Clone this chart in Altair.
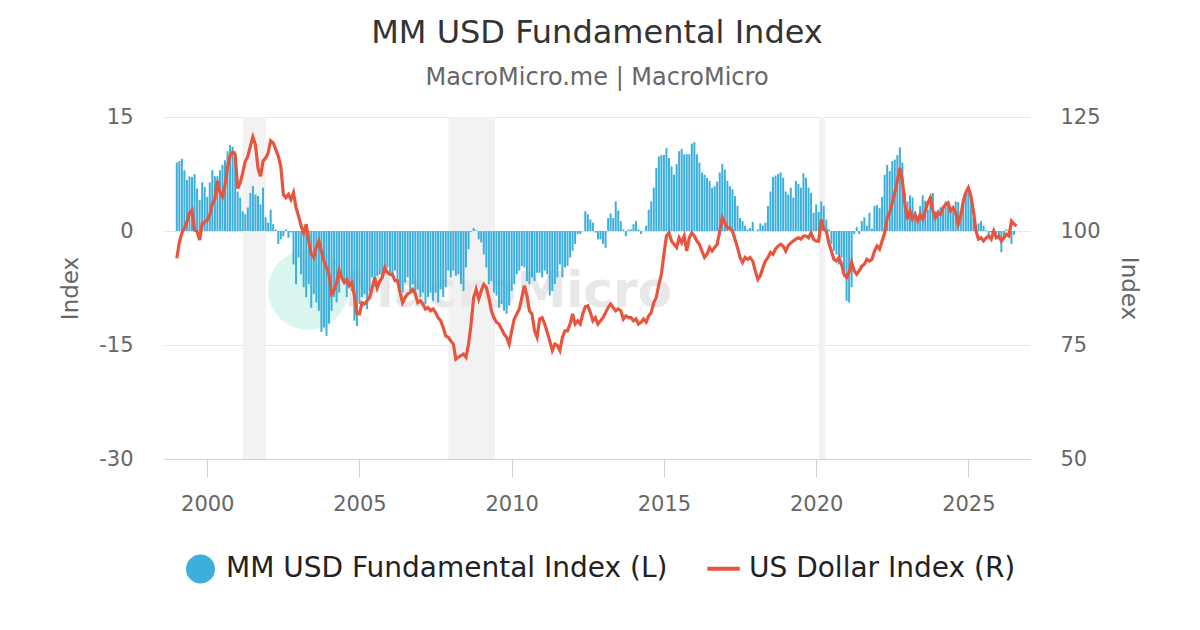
import altair as alt
import pandas as pd

# ---- data (monthly, starting Jan 1999) ----
fi_values = [
    # 1999
    9.0, 9.2, 9.5, 8.0, 6.7, 7.2, 7.1, 7.5, 5.6, 4.1, 6.4, 5.8,
    # 2000
    4.5, 6.4, 8.0, 7.2, 7.2, 8.0, 8.7, 9.3, 10.5, 11.3, 11.1, 10.5,
    # 2001
    5.2, 4.4, 2.6, 2.2, 3.1, 5.0, 5.9, 4.8, 4.6, 3.5, 5.7, 1.8,
    # 2002
    1.1, 2.8, 0.9, 0.2, -1.7, -1.1, -0.7, 0.2, -0.9, -0.2, -4.4, -7.0,
    # 2003
    -3.5, -5.7, -7.4, -8.7, -7.0, -10.1, -8.3, -9.4, -10.5, -13.3, -12.7, -13.8,
    # 2004
    -12.2, -10.5, -8.7, -9.4, -8.1, -6.1, -6.3, -8.7, -7.0, -7.9, -11.8, -12.5,
    # 2005
    -9.6, -8.7, -8.3, -10.3, -7.9, -6.1, -7.3, -5.9, -5.7, -5.9, -4.8, -4.8,
    # 2006
    -5.7, -6.1, -5.2, -6.3, -7.9, -8.1, -6.8, -6.1, -7.9, -7.0, -8.5, -7.7,
    # 2007
    -8.7, -8.1, -9.6, -8.7, -8.1, -9.2, -8.1, -9.4, -7.7, -8.7, -7.4, -5.2,
    # 2008
    -6.1, -5.2, -5.9, -5.7, -7.0, -7.9, -4.8, -2.4, -0.1, 0.4, 0.1, -1.1,
    # 2009
    -1.5, -3.1, -4.8, -7.0, -6.6, -8.1, -8.5, -10.1, -9.6, -10.5, -10.9, -9.8,
    # 2010
    -7.9, -7.0, -5.7, -5.2, -4.6, -4.8, -6.6, -7.0, -6.1, -6.6, -5.5, -5.5,
    # 2011
    -6.1, -5.2, -5.7, -8.5, -7.9, -7.0, -6.1, -4.4, -6.1, -4.8, -4.6, -3.5,
    # 2012
    -2.6, -1.7, -0.4, -0.4, 0.0, 2.6, 2.2, 1.5, 1.1, -0.2, -1.1, -1.1,
    # 2013
    -1.7, -2.2, 1.7, 2.3, 1.7, 3.9, 2.7, 1.3, 0.2, -0.7, 0.2, 0.2,
    # 2014
    0.9, 1.3, 0.2, -0.4, 0.0, 0.7, 2.8, 3.9, 5.7, 8.3, 9.8, 10.0,
    # 2015
    10.0, 10.9, 9.6, 8.5, 7.4, 8.8, 10.5, 10.8, 10.1, 10.1, 10.1, 11.5,
    # 2016
    11.7, 10.1, 9.0, 7.7, 7.4, 7.0, 6.6, 5.7, 5.9, 6.5, 7.7, 8.8,
    # 2017
    8.1, 6.6, 5.9, 5.5, 4.6, 3.3, 1.7, 1.3, 0.7, 0.2, 0.4, 1.2,
    # 2018
    0.0, 0.2, 1.0, 0.7, 1.1, 3.3, 5.2, 7.1, 7.3, 7.5, 7.7, 7.0,
    # 2019
    5.2, 4.8, 5.7, 4.4, 6.6, 6.2, 5.7, 7.6, 7.0, 5.7, 5.0, 2.4,
    # 2020
    3.5, 2.5, 3.9, 3.3, 1.5, 0.2, -1.7, -2.6, -3.1, -4.4, -3.5, -6.0,
    # 2021
    -9.2, -9.4, -7.4, -0.4, 0.5, -0.4, 1.3, 1.8, 0.7, 2.4, 0.3, 3.3,
    # 2022
    3.4, 3.0, 4.5, 7.4, 8.7, 7.9, 9.2, 9.4, 10.0, 11.0, 9.0, 5.0,
    # 2023
    3.9, 4.7, 4.4, 2.6, 1.3, 3.3, 4.7, 4.0, 2.8, 4.6, 5.0, 2.6,
    # 2024
    2.8, 3.1, 3.1, 3.9, 3.7, 2.6, 2.6, 3.9, 3.8, 2.6, 4.2, 4.8,
    # 2025
    5.0, 4.4, 1.7, 0.4, 1.0, 1.3, 0.7, 0.1, -0.7, -0.2, 0.1, -0.4,
    # 2026
    -1.1, -2.8, -0.8, 0.2, -0.4, -1.7, -0.5,
]

dxy_values = [
    # 1999
    94.0, 97.5, 99.6, 100.6, 102.0, 103.9, 104.6, 100.2, 99.9, 98.0, 101.5, 102.0,
    # 2000
    102.4, 103.5, 106.0, 107.0, 111.0, 108.5, 107.5, 110.0, 114.0, 116.5, 117.3, 116.8,
    # 2001
    109.3, 110.6, 112.8, 115.3, 116.4, 118.6, 120.6, 118.9, 113.8, 112.0, 115.3, 116.0,
    # 2002
    117.1, 119.8, 119.3, 117.9, 116.4, 114.2, 108.0, 107.3, 108.0, 106.9, 108.4, 105.1,
    # 2003
    103.3, 101.1, 99.6, 101.5, 97.8, 94.9, 94.2, 96.4, 97.8, 95.6, 93.4, 92.0,
    # 2004
    90.5, 86.2, 86.9, 88.7, 91.3, 89.8, 88.7, 89.4, 88.0, 88.7, 85.8, 81.8,
    # 2005
    81.8, 84.3, 84.0, 84.7, 85.4, 87.5, 89.8, 87.5, 89.0, 89.8, 92.0, 90.9,
    # 2006
    90.5, 90.5, 89.1, 89.1, 86.5, 84.3, 85.4, 86.2, 86.5, 87.2, 86.2, 84.3,
    # 2007
    84.7, 84.0, 82.9, 83.2, 82.5, 82.9, 82.1, 81.0, 80.3, 78.9, 77.0, 76.7,
    # 2008
    75.9, 75.2, 71.9, 72.3, 72.7, 73.0, 72.3, 75.2, 79.6, 85.4, 87.2, 85.1,
    # 2009
    86.9, 88.3, 87.6, 85.4, 82.5, 81.0, 80.0, 79.6, 78.5, 77.4, 76.7, 75.2,
    # 2010
    78.1, 80.7, 81.8, 82.9, 85.4, 88.0, 85.8, 82.5, 81.8, 78.1, 76.7, 80.7,
    # 2011
    81.0, 79.6, 77.8, 75.9, 73.8, 75.2, 74.9, 73.8, 76.7, 78.1, 78.1, 79.6,
    # 2012
    81.8, 79.6, 80.3, 79.6, 81.8, 83.4, 83.6, 82.1, 80.3, 81.0, 79.6, 80.3,
    # 2013
    81.0, 82.1, 83.2, 84.0, 83.2, 82.5, 82.9, 82.5, 80.7, 81.4, 81.0, 81.0,
    # 2014
    80.3, 80.7, 79.6, 80.0, 80.7, 80.0, 81.4, 82.1, 84.3, 85.4, 88.3, 90.5,
    # 2015
    94.9, 98.9, 99.6, 97.8, 97.1, 96.4, 98.5, 97.4, 98.9, 95.6, 98.5, 99.6,
    # 2016
    98.9, 97.8, 97.1, 95.6, 94.2, 94.9, 96.4, 95.6, 96.4, 97.1, 100.0, 102.9,
    # 2017
    101.8, 100.7, 100.7, 100.0, 98.2, 96.4, 94.2, 93.1, 94.2, 93.8, 94.2, 93.4,
    # 2018
    91.3, 89.4, 90.2, 92.0, 93.4, 94.2, 95.3, 94.9, 96.0, 96.7, 97.1, 96.7,
    # 2019
    95.6, 96.8, 97.4, 97.8, 98.2, 98.5, 98.2, 98.9, 98.9, 98.5, 99.6, 98.2,
    # 2020
    97.8, 97.8, 102.5, 100.4, 100.0, 97.4, 95.6, 93.8, 93.4, 94.2, 92.7, 90.5,
    # 2021
    89.8, 90.9, 93.1, 91.3, 90.5, 91.3, 92.3, 92.7, 93.8, 93.4, 93.8, 95.6,
    # 2022
    96.7, 96.0, 97.8, 99.6, 102.9, 104.0, 106.2, 108.4, 111.0, 113.8, 111.0, 105.8,
    # 2023
    102.6, 104.4, 102.6, 103.6, 102.2, 103.6, 102.6, 104.4, 106.2, 107.3, 104.4, 102.9,
    # 2024
    104.0, 103.6, 105.1, 105.8, 106.2, 104.4, 105.1, 104.0, 101.5, 103.3, 106.6, 108.4,
    # 2025
    109.5, 107.7, 104.4, 100.0, 98.2, 98.5, 97.8, 98.5, 98.9, 98.2, 100.0, 98.5,
    # 2026
    98.9, 97.8, 98.5, 99.3, 98.9, 102.2, 101.5, 101.1,
]

recession_start = [2001.17, 2007.92, 2020.08]
recession_end = [2001.92, 2009.45, 2020.30]

x_ticks = [2000, 2005, 2010, 2015, 2020, 2025]
left_ticks = [-30, -15, 0, 15]
right_ticks = [50, 75, 100, 125]

series_names = ["MM USD Fundamental Index (L)", "US Dollar Index (R)"]

# ---- styles ----
BLUE = "#3cafda"
RED = "#e8553e"
FONT = "DejaVu Sans"
W, H = 866, 342

fi_df = pd.DataFrame({"t": [1999 + i / 12 for i in range(len(fi_values))], "fi": fi_values})
dxy_df = pd.DataFrame({"t": [1999 + i / 12 for i in range(len(dxy_values))], "dxy": dxy_values})
rec_df = pd.DataFrame({"start": recession_start, "end": recession_end})
leg_df = pd.DataFrame({"series": series_names})
one_df = pd.DataFrame({"a": [0]})

x_scale = alt.Scale(domain=[1998.744, 2026.86], nice=False, zero=False)
x_axis = alt.Axis(
    values=x_ticks, format="d", title=None, grid=False,
    labelFontSize=21, labelColor="#666", labelFont=FONT, labelPadding=16,
    tickSize=18, tickColor="#d0d0d0", domainColor="#d0d0d0",
)

bands = alt.Chart(rec_df).mark_rect(color="#f2f2f2").encode(
    x=alt.X("start:Q", scale=x_scale, axis=x_axis),
    x2="end:Q",
    y=alt.value(0),
    y2=alt.value(H),
)

wm_circle = alt.Chart(one_df).mark_circle(color="#d9f7f0", opacity=1, size=6400).encode(
    x=alt.value(144), y=alt.value(173)
)
wm_text = alt.Chart(one_df).mark_text(
    text="MacroMicro", font=FONT, fontSize=50, fontWeight="bold",
    color="#e8e8e8", align="right", baseline="alphabetic",
).encode(x=alt.value(508), y=alt.value(190))

bars = alt.Chart(fi_df).mark_bar(size=2, color=BLUE).encode(
    x=alt.X("t:Q", scale=x_scale, axis=x_axis),
    y=alt.Y(
        "fi:Q",
        scale=alt.Scale(domain=[-30, 15], nice=False),
        axis=alt.Axis(
            values=left_ticks, title="Index", orient="left",
            labelExpr="'' + datum.value",
            labelFontSize=21, labelColor="#666", labelFont=FONT, labelPadding=31,
            ticks=False, tickSize=0, domain=False,
            grid=True, gridColor="#e6e6e6",
            titleFontSize=23, titleColor="#666", titleFont=FONT,
            titleFontWeight="normal", titlePadding=16,
        ),
    ),
)

line = alt.Chart(dxy_df).mark_line(color=RED, strokeWidth=3.2).encode(
    x=alt.X("t:Q", scale=x_scale, axis=x_axis),
    y=alt.Y(
        "dxy:Q",
        scale=alt.Scale(domain=[50, 125], nice=False, zero=False),
        axis=alt.Axis(
            values=right_ticks, title="Index", orient="right",
            labelFontSize=21, labelColor="#666", labelFont=FONT, labelPadding=30,
            ticks=False, tickSize=0, domain=False, grid=False,
            titleFontSize=23, titleColor="#666", titleFont=FONT,
            titleFontWeight="normal", titlePadding=16,
        ),
    ),
)

leg = alt.Legend(
    title=None, orient="none", legendX=22, legendY=437, direction="horizontal",
    labelFontSize=28, labelFont=FONT, labelColor="#222", labelLimit=0,
    symbolSize=625, symbolStrokeWidth=4, symbolOpacity=1,
    labelOffset=11, columnPadding=31, padding=0,
)

legend_pts = alt.Chart(leg_df).mark_point(filled=True, size=10).encode(
    x=alt.value(5),
    y=alt.value(5),
    opacity=alt.value(0),
    fill=alt.Fill("series:N", scale=alt.Scale(domain=series_names, range=[BLUE, RED]), legend=leg),
    stroke=alt.Stroke("series:N", scale=alt.Scale(domain=series_names, range=[BLUE, RED]), legend=leg),
    shape=alt.Shape(
        "series:N",
        scale=alt.Scale(domain=series_names, range=["circle", "M0,-1.04M0,1.04M-1.3,0H1.3"]),
        legend=leg,
    ),
)

chart = alt.layer(bands, wm_circle, wm_text, bars, line, legend_pts).resolve_scale(
    y="independent"
).properties(
    width=W,
    height=H,
    autosize=alt.AutoSizeParams(type="none"),
    padding={"left": 156, "top": 109, "right": 162, "bottom": 163},
    title=alt.Title(
        text="MM USD Fundamental Index",
        subtitle="MacroMicro.me | MacroMicro",
        font=FONT, fontSize=32, fontWeight="normal", color="#333",
        subtitleFont=FONT, subtitleFontSize=24, subtitleColor="#666",
        anchor="middle", offset=15, subtitlePadding=16,
    ),
).configure_view(stroke=None)

chart.save("out.html", embed_options={"renderer": "svg", "actions": False})
